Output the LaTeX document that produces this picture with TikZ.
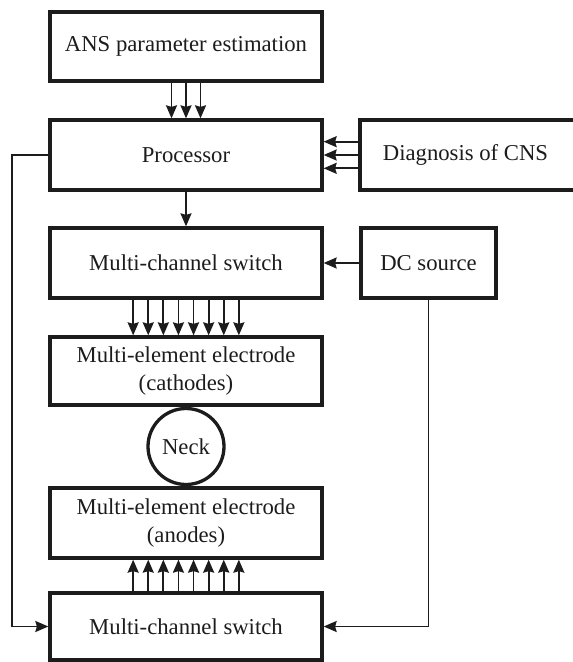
\documentclass[tikz,border=0pt]{standalone}
\usepackage{fontspec}
\setmainfont{Liberation Serif}
\usetikzlibrary{arrows.meta}
\definecolor{ink}{HTML}{1C1C1C}
\tikzset{
  box/.style={draw=ink, line width=3.3pt, rectangle, inner sep=0pt, align=center,
    text=ink, font=\fontsize{22.7}{28}\selectfont},
  neckshape/.style={draw=ink, line width=3.3pt, circle, inner sep=0pt, minimum size=76pt,
    text=ink, font=\fontsize{22.7}{28}\selectfont},
  arr/.style={draw=ink, line width=1.8pt, -{Stealth[length=13pt,width=11pt,inset=1.5pt]}},
  wire/.style={draw=ink, line width=1.8pt}
}
\begin{document}
\begin{tikzpicture}[x=1pt,y=-1pt]
\useasboundingbox (0,0) rectangle (573,662);
\node[box, minimum width=272pt, minimum height=69pt] (ans) at (186,46.5) {ANS parameter estimation};
\node[box, minimum width=272pt, minimum height=70pt] (proc) at (186,155) {Processor};
\node[box, minimum width=215pt, minimum height=70pt] (diag) at (467.5,155) {\hspace*{-4pt}Diagnosis of CNS};
\node[box, minimum width=272pt, minimum height=70pt] (mcs1) at (186,263) {Multi-channel switch};
\node[box, minimum width=135pt, minimum height=70pt] (dc) at (428.5,263) {DC source};
\node[box, minimum width=272pt, minimum height=68pt] (cath) at (186,371) {Multi-element electrode\\(cathodes)};
\node[neckshape] (neck) at (186,446.5) {Neck};
\node[box, minimum width=272pt, minimum height=70pt] (anod) at (186,523) {Multi-element electrode\\(anodes)};
\node[box, minimum width=272pt, minimum height=67pt] (mcs2) at (186,626.5) {Multi-channel switch};
\coordinate (leftrail) at (12,155);

% ANS -> Processor
\foreach \dx in {-14.5,0,14.5}
  \draw[arr] ([xshift=\dx pt]ans.south) -- ([xshift=\dx pt]proc.north);
% Diagnosis -> Processor
\foreach \dy in {-13.3,0,13.3}
  \draw[arr] ([yshift=\dy pt]diag.west) -- ([yshift=\dy pt]proc.east);
% Processor -> MCS1
\draw[arr] (proc.south) -- (mcs1.north);
% DC -> MCS1
\draw[arr] (dc.west) -- (mcs1.east);
% MCS1 -> cathodes
\foreach \i in {0,...,7}
  \draw[arr] ([xshift={(\i-3.5)*15.1}]mcs1.south) -- ([xshift={(\i-3.5)*15.1}]cath.north);
% MCS2 -> anodes
\foreach \i in {0,...,7}
  \draw[arr] ([xshift={(\i-3.5)*15.1}]mcs2.north) -- ([xshift={(\i-3.5)*15.1}]anod.south);
% Processor -> MCS2 (left rail)
\draw[arr] (proc.west) -- (leftrail) |- (mcs2.west);
% DC -> MCS2
\draw[arr] (dc.south) |- (mcs2.east);
\end{tikzpicture}
\end{document}
